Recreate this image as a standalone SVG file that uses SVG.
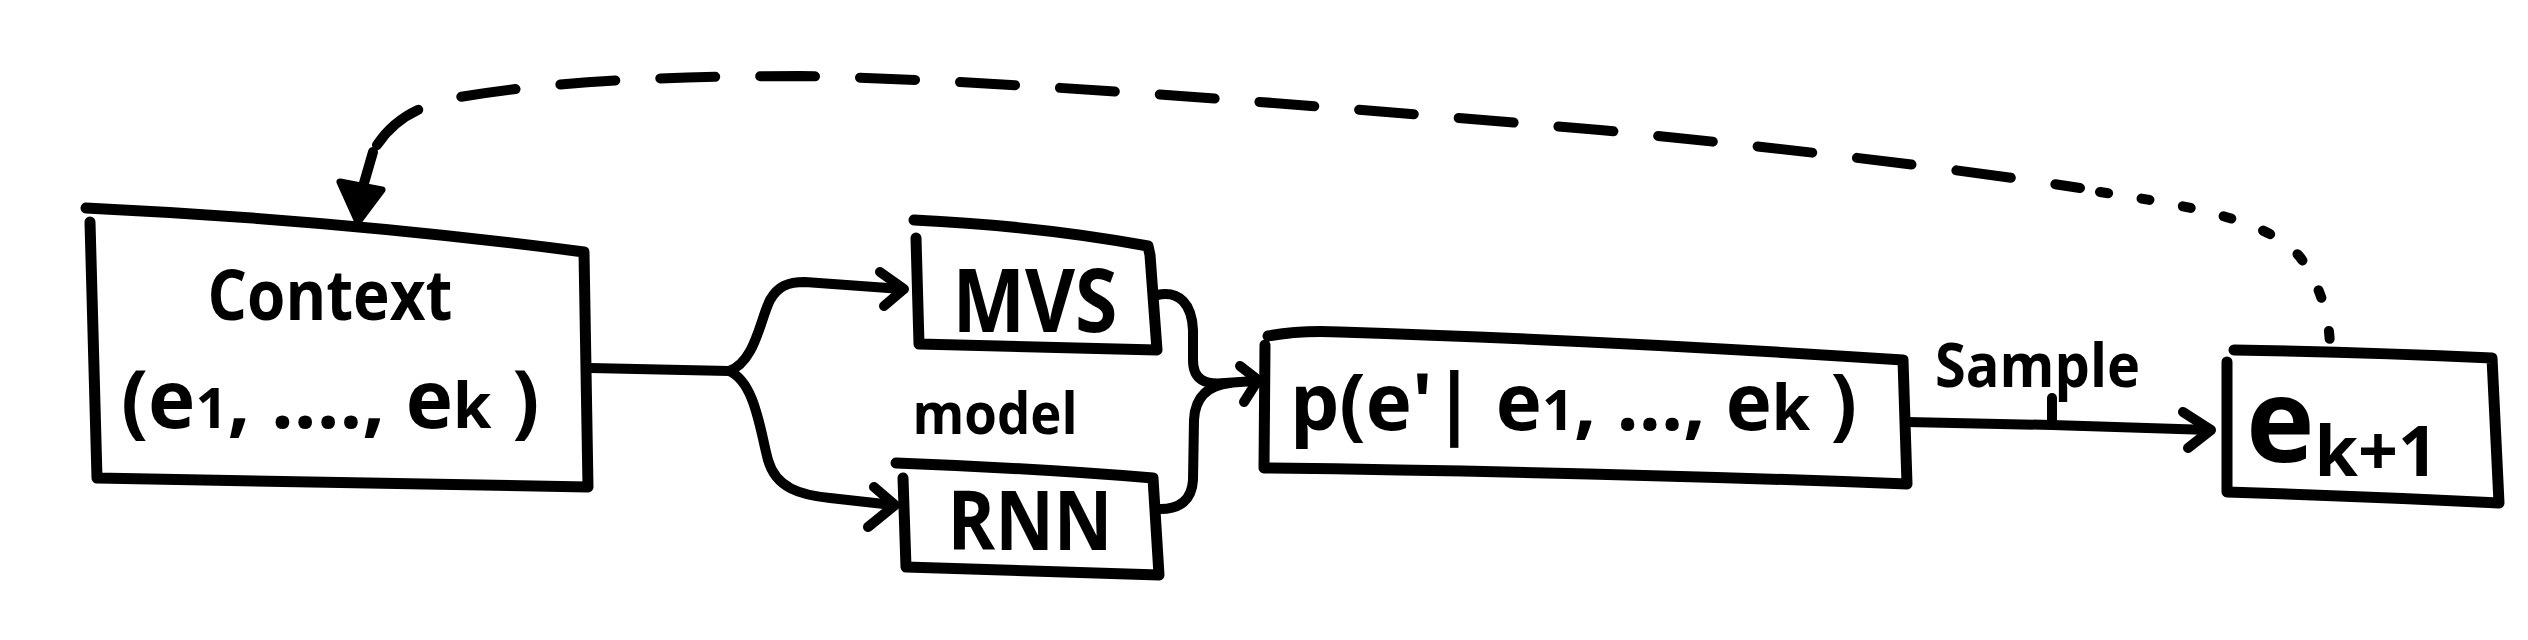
<svg xmlns="http://www.w3.org/2000/svg" width="2528" height="640" viewBox="0 0 2528 640">
<style>
.box{fill:none;stroke:#000;stroke-width:11;stroke-linecap:round;stroke-linejoin:round}
.ln{fill:none;stroke:#000;stroke-width:10;stroke-linecap:round;stroke-linejoin:round}
.dash{fill:none;stroke:#000;stroke-width:10;stroke-linecap:round;stroke-dasharray:55 45}
.dot{fill:none;stroke:#000;stroke-width:10;stroke-linecap:round;stroke-dasharray:8 34}
.t{font-family:"Open Sans","Liberation Sans",sans-serif;font-weight:700;fill:#000}
</style>
<rect width="2528" height="640" fill="#fff"/>
<g id="context">
<path class="box" d="M86,208 Q340,220 584,252 L588,487 Q340,482 97,478 L90,222"/>
<text class="t" x="330" y="320" font-size="70" text-anchor="middle" textLength="245" lengthAdjust="spacingAndGlyphs">Context</text>
<text class="t" x="121" y="428" font-size="80">(e<tspan font-size="56">1</tspan>, ...., e<tspan font-size="62">k</tspan> )</text>
</g>
<g id="mvs">
<path class="box" d="M914,220 Q1040,226 1148,246 L1150,255 L1157,350 L919,344 L916,238"/>
<text class="t" x="1035" y="332" font-size="88" text-anchor="middle" textLength="165" lengthAdjust="spacingAndGlyphs">MVS</text>
</g>
<g id="model-label">
<text class="t" x="995" y="434" font-size="58" text-anchor="middle" textLength="165" lengthAdjust="spacingAndGlyphs">model</text>
</g>
<g id="rnn">
<path class="box" d="M896,463 Q1030,468 1153,478 L1159,575 L906,567 L903,478"/>
<text class="t" x="1030" y="550" font-size="82" text-anchor="middle" textLength="165" lengthAdjust="spacingAndGlyphs">RNN</text>
</g>
<g id="p">
<path class="box" d="M1268,336 Q1300,330 1340,332 Q1600,340 1903,360 L1907,484 Q1600,472 1264,468 L1265,345"/>
<text class="t" x="1290" y="430" font-size="78">p(e'| e<tspan font-size="56">1</tspan>, ..., e<tspan font-size="62">k</tspan> )</text>
</g>
<g id="sample-label">
<text class="t" x="1935" y="387" font-size="60" textLength="205" lengthAdjust="spacingAndGlyphs">Sample</text>
</g>
<g id="ek1">
<path class="box" d="M2234,350 Q2360,352 2492,358 L2499,503 Q2360,496 2227,492 L2227,362"/>
<text class="t" x="2246" y="462" font-size="116">e<tspan font-size="70" dy="14">k+1</tspan></text>
</g>
<g id="connectors">
<path class="ln" d="M590,368 L729,371"/>
<path class="ln" d="M729,371 C755,362 760,320 770,300 C778,286 788,282 805,282 L902,289"/>
<path class="ln" d="M880,272 L904,289 L884,306"/>
<path class="ln" d="M729,371 C755,382 760,430 768,460 C776,488 800,495 830,498 L893,505"/>
<path class="ln" d="M874,487 L895,505 L868,527"/>
<path class="ln" d="M1157,295 C1180,290 1192,305 1193,330 L1193,360 C1193,380 1205,385 1225,383 L1255,381"/>
<path class="ln" d="M1157,509 C1180,510 1192,500 1193,480 L1194,420 C1195,395 1210,385 1230,383"/>
<path class="ln" d="M1240,366 L1258,380 L1244,402"/>
<path class="ln" d="M1907,422 L2052,425 L2210,430"/>
<path class="ln" d="M2052,398 L2052,425"/>
<path class="ln" d="M2183,412 L2211,430 L2188,448"/>
<path class="ln" d="M362,190 L373,152"/>
<path class="dash" d="M377,145 C395,118 420,105 460,97 C560,80 680,76 800,76 C1000,80 1300,104 1600,130 C1800,150 1950,168 2080,188"/>
<path class="dot" d="M2100,192 C2200,207 2270,222 2300,257 C2322,287 2330,320 2330,350"/>
<path d="M340,182 L382,190 L358,222 Z" fill="#000" stroke="#000" stroke-width="7" stroke-linejoin="round"/>
</g>
</svg>
